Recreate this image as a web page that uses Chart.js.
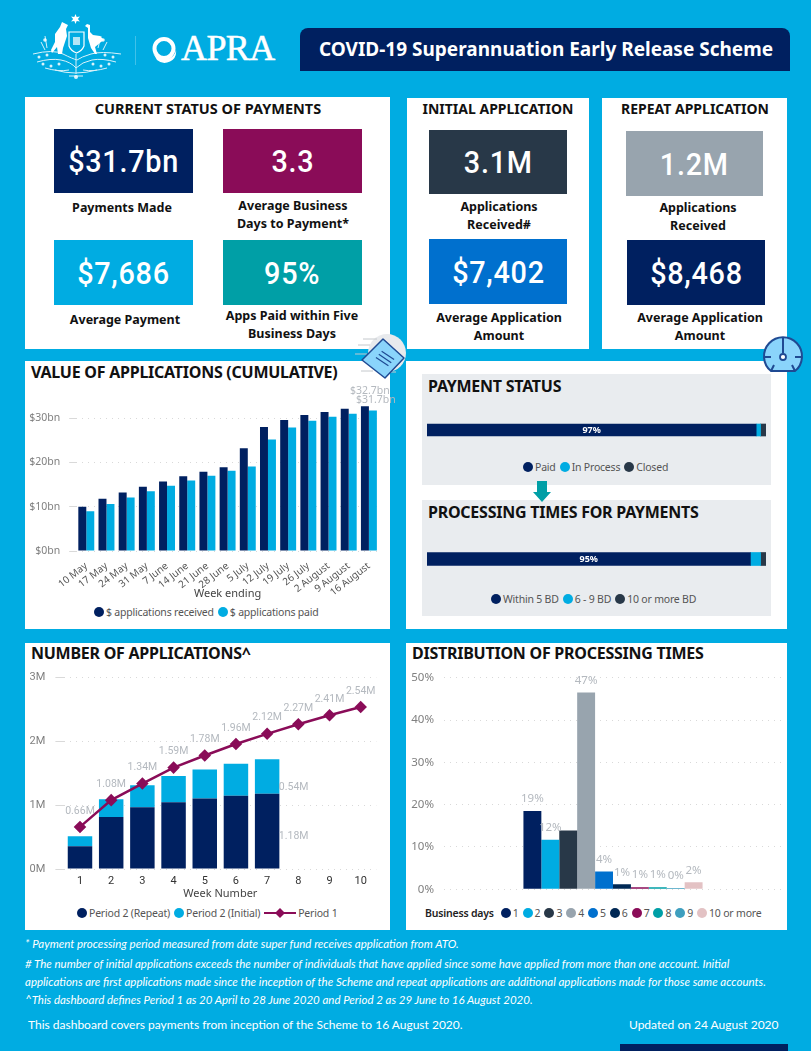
<!DOCTYPE html>
<html>
<head>
<meta charset="utf-8">
<title>COVID-19 Superannuation Early Release Scheme</title>
<script src="https://cdn.jsdelivr.net/npm/chart.js@4/dist/chart.umd.js"></script>
<style>
    * { box-sizing: border-box; }
    html, body { margin: 0; padding: 0; }
    body { position: relative; width: 811px; height: 1051px; overflow: hidden; background: #00ace2; font-family: "Noto Sans", sans-serif; color: #111; }
    .abs { position: absolute; }
    .panel { position: absolute; background: #fff; }
    .grey { position: absolute; background: #e9ecef; }
    .heading { position: absolute; font-weight: 700; font-size: 16px; letter-spacing: -.25px; line-height: 20px; white-space: nowrap; color: #111; }
    .heading.c { transform: translateX(-50%); font-size: 14.5px; letter-spacing: 0; }
    .heading.s { font-size: 14px; }
    .tile { position: absolute; display: flex; align-items: center; justify-content: center; color: #fff; font-family: Roboto, sans-serif; font-weight: 500; font-size: 32px; letter-spacing: .8px; }
    .tile span { display: inline-block; transform: scaleX(.9); }
    .cap { position: absolute; transform: translateX(-50%); text-align: center; white-space: nowrap; font-weight: 700; font-size: 12.5px; line-height: 18px; color: #111; }
    .legend { position: absolute; display: flex; align-items: center; white-space: nowrap; height: 16px; font-size: 10.5px; letter-spacing: -.2px; color: #555; }
    .legend i { display: inline-block; width: 10px; height: 10px; border-radius: 50%; margin-right: 2px; }
    .legend span { margin-right: 4px; }
    .legend b { color: #222; font-weight: 600; margin-right: 7px; }
    .note { position: absolute; left: 25px; color: #fff; font-family: Lato, sans-serif; font-style: italic; font-size: 11.5px; line-height: 16px; white-space: nowrap; }
    .foot { position: absolute; color: #fff; font-family: Lato, sans-serif; font-size: 12px; line-height: 16px; white-space: nowrap; }
    canvas { position: absolute; }
</style>
</head>
<body>

<!-- cabecera -->
<svg class="abs" style="left:25px;top:10px" width="110" height="75" viewBox="0 0 110 75" fill="#fff" stroke="none">
    <path d="M50.5 4l1.2 3 3.2-.6-2 2.6 2 2.6-3.2-.6-1.2 3-1.2-3-3.2.6 2-2.6-2-2.6 3.2.6z"/>
    <path d="M37 12l6 3-2 4 1 7-2 6-2 6-1 6h-4l-1-7-5 6-1-3 4-8v-8l5-7z"/>
    <path d="M62 14l-2 2 3 2v10l3 10 4 6h2l-2-7 6-5 3-2-4-4-7-1-3-3v-7z"/>
    <path d="M44 22h15v14q-2 5-7.500 7-5.500-2-7.500-7z" fill="none" stroke="#fff" stroke-width="1.2"/>
    <path d="M48 27h7v8h-7z" opacity=".7"/>
    <g fill="none" stroke="#fff" stroke-width="1" opacity=".85">
        <path d="M8 44q20-5 30 0t14 6q4-3 14-6t30 0"/>
        <path d="M12 52q14-4 24-2t15 8q6-6 16-8t24 2"/>
        <path d="M20 58q14 4 24 2M82 58q-14 4-24 2"/>
        <path d="M16 32l4 8M20 26l2 12M76 26l-3 12M82 32l-4 8"/>
        <path d="M30 60q20 6 42 0"/>
        <path d="M51 44v20M44 66h14"/>
    </g>
    <g opacity=".85">
        <circle cx="14" cy="47" r="1.500"/><circle cx="22" cy="45" r="1.500"/><circle cx="18" cy="54" r="1.500"/>
        <circle cx="26" cy="56" r="1.500"/><circle cx="34" cy="54" r="1.500"/><circle cx="88" cy="47" r="1.500"/>
        <circle cx="80" cy="45" r="1.500"/><circle cx="84" cy="54" r="1.500"/><circle cx="76" cy="56" r="1.500"/>
        <circle cx="68" cy="54" r="1.500"/><circle cx="20" cy="30" r="1.800"/><circle cx="78" cy="30" r="1.800"/>
        <circle cx="51" cy="67" r="2"/>
    </g>
</svg>
<div class="abs" style="left:135px;top:36px;width:1px;height:29px;background:rgba(255,255,255,.25)"></div>
<svg class="abs" style="left:150px;top:34px" width="30" height="30" viewBox="0 0 30 30">
    <circle cx="14" cy="14.500" r="9.500" fill="none" stroke="#fff" stroke-width="4"/>
    <path d="M3 19q6 8 14 6t9-9q1 8-6 11.500t-13-1.500z" fill="#fff"/>
</svg>
<div class="abs" style="left:181px;top:28px;font-family:'Liberation Serif',serif;font-size:36px;line-height:40px;letter-spacing:-.6px;color:#fff;font-weight:400;-webkit-text-stroke:.5px #fff">APRA</div>
<div class="abs" style="left:300px;top:28px;width:490px;height:43px;background:#002060;border-radius:8px 8px 0 0;color:#fff;font-weight:700;font-size:19px;line-height:43px;text-align:center;padding-left:2px">COVID-19 Superannuation Early Release Scheme</div>

<!-- paneles -->
<div class="panel" style="left:25px;top:97px;width:365px;height:252px"></div>
<div class="panel" style="left:407px;top:98px;width:182px;height:251px"></div>
<div class="panel" style="left:602px;top:98px;width:185px;height:251px"></div>
<div class="panel" style="left:25px;top:361px;width:365px;height:268px"></div>
<div class="panel" style="left:406px;top:361px;width:381px;height:268px"></div>
<div class="panel" style="left:25px;top:643px;width:365px;height:287px"></div>
<div class="panel" style="left:406px;top:643px;width:381px;height:287px"></div>
<div class="grey" style="left:422px;top:374px;width:349px;height:111px"></div>
<div class="grey" style="left:422px;top:500px;width:349px;height:116px"></div>

<!-- tarjetas -->
<div class="heading c" style="left:208px;top:98px">CURRENT STATUS OF PAYMENTS</div>
<div class="heading c s" style="left:498px;top:99px">INITIAL APPLICATION</div>
<div class="heading c s" style="left:695px;top:99px">REPEAT APPLICATION</div>

<div class="tile" style="left:54px;top:129px;width:139px;height:64px;background:#002060"><span>$31.7bn</span></div>
<div class="tile" style="left:223px;top:129px;width:139px;height:64px;background:#8a0c58"><span>3.3</span></div>
<div class="tile" style="left:54px;top:240px;width:139px;height:65px;background:#00ace2"><span>$7,686</span></div>
<div class="tile" style="left:223px;top:240px;width:139px;height:65px;background:#009fa6"><span>95%</span></div>
<div class="tile" style="left:429px;top:130px;width:138px;height:64px;background:#283848"><span>3.1M</span></div>
<div class="tile" style="left:429px;top:239px;width:138px;height:65px;background:#0070ce"><span>$7,402</span></div>
<div class="tile" style="left:626px;top:131px;width:137px;height:65px;background:#98a4ae"><span>1.2M</span></div>
<div class="tile" style="left:627px;top:240px;width:138px;height:65px;background:#002060"><span>$8,468</span></div>

<div class="cap" style="left:122px;top:199px">Payments Made</div>
<div class="cap" style="left:293px;top:197px">Average Business<br>Days to Payment*</div>
<div class="cap" style="left:125px;top:311px">Average Payment</div>
<div class="cap" style="left:292px;top:307px">Apps Paid within Five<br>Business Days</div>
<div class="cap" style="left:499px;top:198px">Applications<br>Received#</div>
<div class="cap" style="left:499px;top:309px">Average Application<br>Amount</div>
<div class="cap" style="left:698px;top:199px">Applications<br>Received</div>
<div class="cap" style="left:700px;top:309px">Average Application<br>Amount</div>

<!-- titulos de graficas -->
<div class="heading" style="left:31px;top:362px">VALUE OF APPLICATIONS (CUMULATIVE)</div>
<div class="heading" style="left:428px;top:376px">PAYMENT STATUS</div>
<div class="heading" style="left:428px;top:502px">PROCESSING TIMES FOR PAYMENTS</div>
<div class="heading" style="left:31px;top:643px">NUMBER OF APPLICATIONS^</div>
<div class="heading" style="left:412px;top:643px">DISTRIBUTION OF PROCESSING TIMES</div>

<!-- iconos -->
<svg class="abs" style="left:355px;top:330px" width="55" height="55" viewBox="0 0 55 55">
    <circle cx="32" cy="23" r="19" fill="#e8eaed"/>
    <g stroke="#c4c8cc" stroke-width="1"><path d="M8 9h14M3 15h12M0 24h12M6 41h12M32 42h9"/></g>
    <path d="M7 30 28 9 49 28 30 48 z" fill="#8ad4fb" stroke="#1f4a93" stroke-width="1.500" stroke-linejoin="round"/>
    <path d="M21 27l12 9M24 24l12 9M27 21l12 9" stroke="#1f4a93" stroke-width="1.200" transform="rotate(-3 30 28)"/>
</svg>
<svg class="abs" style="left:760px;top:334px" width="46" height="42" viewBox="0 0 46 42">
    <path d="M11 37 A19 19 0 1 1 35 37 z" fill="#8ad4fb" stroke="#1f4a93" stroke-width="2"/>
    <path d="M23 4v7M4 23h7M42 23h-7M11 37l3-6M35 37l-3-6M23 19v-8" stroke="#1f4a93" stroke-width="2" fill="none"/>
    <circle cx="23" cy="23" r="3" fill="#fff" stroke="#1f4a93" stroke-width="1.800"/>
</svg>
<svg class="abs" style="left:533px;top:481px" width="18" height="21" viewBox="0 0 18 21">
    <path d="M4 0h10v11h4l-9 10-9-10h4z" fill="#009fa6"/>
</svg>

<!-- graficas -->
<canvas id="chartValue" width="370" height="215" style="left:25px;top:385px"></canvas>
<canvas id="chartStatus" width="339" height="20" style="left:427px;top:420px"></canvas>
<canvas id="chartTimes" width="339" height="20" style="left:427px;top:549px"></canvas>
<canvas id="chartNumber" width="365" height="235" style="left:25px;top:665px"></canvas>
<canvas id="chartDist" width="381" height="230" style="left:406px;top:665px"></canvas>

<div id="legValue" class="legend" style="left:94px;top:604px"></div>
<div id="legStatus" class="legend" style="left:523px;top:459px"></div>
<div id="legTimes" class="legend" style="left:491px;top:591px"></div>
<div id="legNumber" class="legend" style="left:77px;top:905px"></div>
<div id="legDist" class="legend" style="left:425px;top:905px"></div>

<!-- notas -->
<div class="note" style="top:936px">* Payment processing period measured from date super fund receives application from ATO.</div>
<div class="note" style="top:956px"># The number of initial applications exceeds the number of individuals that have applied since some have applied from more than one account. Initial</div>
<div class="note" style="top:974px">applications are first applications made since the inception of the Scheme and repeat applications are additional applications made for those same accounts.</div>
<div class="note" style="top:992px">^This dashboard defines Period 1 as 20 April to 28 June 2020 and Period 2 as 29 June to 16 August 2020.</div>
<div class="foot" style="left:28px;top:1017px">This dashboard covers payments from inception of the Scheme to 16 August 2020.</div>
<div class="foot" style="left:629px;top:1017px">Updated on 24 August 2020</div>
<div class="abs" style="left:620px;top:1044px;width:168px;height:7px;background:#002060"></div>

<script>
// Colores
const NAVY = "#002060";
const CYAN = "#00ace2";
const DARK = "#283848";
const PURPLE = "#8a0c58";
const GREY_LABEL = "#b4b9bf";
const GRID = "#d9d9d9";

// Valor acumulado ($bn)
const weeks = ["10 May", "17 May", "24 May", "31 May", "7 June", "14 June", "21 June", "28 June", "5 July", "12 July", "19 July", "26 July", "2 August", "9 August", "16 August"];
const received = [10.0, 11.8, 13.2, 14.5, 15.7, 16.9, 17.9, 18.9, 23.2, 28.0, 29.6, 30.7, 31.4, 32.1, 32.7];
const paid = [9.0, 10.6, 12.1, 13.5, 14.75, 15.9, 17.0, 18.1, 19.05, 25.2, 27.9, 29.4, 30.3, 31.0, 31.7];
const receivedLabels = ["", "", "", "", "", "", "", "", "", "", "", "", "", "", "$32.7bn"];
const paidLabels = ["", "", "", "", "", "", "", "", "", "", "", "", "", "", "$31.7bn"];

// Barras de estado (%)
const statusNames = ["Paid", "In Process", "Closed"];
const statusValues = [97.1, 1.3, 1.6];
const timesNames = ["Within 5 BD", "6 - 9 BD", "10 or more BD"];
const timesValues = [95.4, 3.0, 1.6];

// Numero de solicitudes (millones)
const weekNumbers = ["1", "2", "3", "4", "5", "6", "7", "8", "9", "10"];
const period2Repeat = [0.356, 0.817, 0.969, 1.047, 1.105, 1.147, 1.18];
const period2Initial = [0.157, 0.277, 0.345, 0.413, 0.455, 0.503, 0.54];
const period1 = [0.66, 1.08, 1.34, 1.59, 1.78, 1.96, 2.12, 2.27, 2.41, 2.54];
const period1Labels = ["0.66M", "1.08M", "1.34M", "1.59M", "1.78M", "1.96M", "2.12M", "2.27M", "2.41M", "2.54M"];

// Distribucion de tiempos (%)
const businessDays = ["1", "2", "3", "4", "5", "6", "7", "8", "9", "10 or more"];
const distValues = [18.5, 11.7, 13.9, 46.5, 4.2, 1.2, 0.5, 0.5, 0.3, 1.65];
const distLabels = ["19%", "12%", "", "47%", "4%", "1%", "1%", "1%", "0%", "2%"];
const distColors = [NAVY, CYAN, DARK, "#98a4ae", "#0070ce", "#002855", PURPLE, "#009fa6", "#3e9fbf", "#e3c2c4"];

// Plugin para escribir las etiquetas de valor sobre las barras y puntos
const valueLabels = {
    id: "valueLabels",
    afterDatasetsDraw(chart) {
        const ctx = chart.ctx;
        chart.data.datasets.forEach((ds, d) => {
            if (!ds.labelTexts) return;
            const meta = chart.getDatasetMeta(d);
            ctx.save();
            ctx.font = ds.labelFont;
            ctx.fillStyle = ds.labelColor || GREY_LABEL;
            ctx.textAlign = "center";
            ctx.textBaseline = "middle";
            meta.data.forEach((el, i) => {
                if (!ds.labelTexts[i]) return;
                const p = ds.labelCenter ? el.getCenterPoint() : { x: el.x, y: el.y };
                ctx.fillText(ds.labelTexts[i], p.x + (ds.labelDx || 0), p.y + (ds.labelDy || 0));
            });
            ctx.restore();
        });
    },
};
Chart.register(valueLabels);
Chart.defaults.animation = false;
Chart.defaults.responsive = false;
Chart.defaults.plugins.legend.display = false;
Chart.defaults.plugins.tooltip.enabled = false;

// Leyendas
function drawLegend(id, entries, title) {
    const box = document.getElementById(id);
    let html = title ? "<b>" + title + "</b>" : "";
    entries.forEach((e) => {
        if (e.line) {
            html +=
                '<svg width="32" height="12" viewBox="0 0 32 12" style="margin-right:2px"><path d="M0 6h32" stroke="' +
                e.color +
                '" stroke-width="2"/><path d="M16 1l5 5-5 5-5-5z" fill="' +
                e.color +
                '"/></svg>';
        } else {
            html += '<i style="background:' + e.color + '"></i>';
        }
        html += "<span>" + e.name + "</span>";
    });
    box.innerHTML = html;
}

const dottedGrid = { color: GRID, lineWidth: 1 };
const dottedBorder = { display: false, dash: [1, 5] };

// El eje y tiene un ancho fijo y no reserva sitio para media etiqueta
function fixY(width) {
    return (s) => {
        s.width = width;
        s.paddingTop = 0;
        s.paddingBottom = 0;
    };
}

// VALUE OF APPLICATIONS
new Chart(document.getElementById("chartValue"), {
    type: "bar",
    data: {
        labels: weeks,
        datasets: [
            { label: "$ applications received", data: received, backgroundColor: NAVY, categoryPercentage: 0.79, barPercentage: 1, labelTexts: receivedLabels, labelFont: "10.5px 'Noto Sans'", labelDx: 5, labelDy: -15.5 },
            { label: "$ applications paid", data: paid, backgroundColor: CYAN, categoryPercentage: 0.79, barPercentage: 1, labelTexts: paidLabels, labelFont: "10.5px 'Noto Sans'", labelDx: 3, labelDy: -11 },
        ],
    },
    options: {
        layout: { padding: { top: 15.4, right: 16, left: 0, bottom: 0 } },
        scales: {
            x: {
                grid: { display: false },
                border: { display: false },
                afterFit: (s) => { s.height = 49; },
                ticks: { autoSkip: false, minRotation: 38, maxRotation: 38, padding: 1, color: "#555", font: { size: 10, family: "'Noto Sans'" } },
                title: { display: true, text: "Week ending", color: "#444", padding: 0, font: { size: 11, family: "'Noto Sans'" } },
            },
            y: {
                min: 0,
                max: 34,
                afterFit: fixY(51.2),
                grid: { ...dottedGrid, tickLength: 7 },
                border: dottedBorder,
                ticks: { stepSize: 10, includeBounds: false, padding: 9, color: "#808080", font: { size: 10.5, family: "'Noto Sans'" }, callback: (v) => "$" + v + "bn" },
            },
        },
    },
});
drawLegend("legValue", [{ name: "$ applications received", color: NAVY }, { name: "$ applications paid", color: CYAN }]);

// Barras horizontales apiladas
function stackedBar(id, values, names, text, thickness) {
    const colors = [NAVY, CYAN, DARK];
    new Chart(document.getElementById(id), {
        type: "bar",
        data: {
            labels: [""],
            datasets: values.map((v, i) => ({
                label: names[i],
                data: [v],
                backgroundColor: colors[i],
                barThickness: thickness,
                labelTexts: i === 0 ? [text] : null,
                labelCenter: true,
                labelColor: "#fff",
                labelFont: "700 9px 'Noto Sans'",
            })),
        },
        options: {
            indexAxis: "y",
            scales: {
                x: { display: false, stacked: true, min: 0, max: 100 },
                y: { display: false, stacked: true },
            },
        },
    });
    drawLegend(id === "chartStatus" ? "legStatus" : "legTimes", names.map((n, i) => ({ name: n, color: colors[i] })));
}
stackedBar("chartStatus", statusValues, statusNames, "97%", 12);
stackedBar("chartTimes", timesValues, timesNames, "95%", 13);

// NUMBER OF APPLICATIONS
new Chart(document.getElementById("chartNumber"), {
    type: "bar",
    data: {
        labels: weekNumbers,
        datasets: [
            { type: "line", label: "Period 1", order: 0, data: period1, borderColor: PURPLE, backgroundColor: PURPLE, borderWidth: 2.5, pointStyle: "rectRot", pointRadius: 4.5, tension: 0, labelTexts: period1Labels, labelFont: "10.5px Roboto", labelDy: -16 },
            { label: "Period 2 (Repeat)", order: 1, data: period2Repeat, backgroundColor: NAVY, stack: "p2", categoryPercentage: 0.785, barPercentage: 1, labelTexts: ["", "", "", "", "", "", "1.18M"], labelFont: "10.5px Roboto", labelDx: 26.5, labelDy: 43 },
            { label: "Period 2 (Initial)", order: 1, data: period2Initial, backgroundColor: CYAN, stack: "p2", categoryPercentage: 0.785, barPercentage: 1, labelTexts: ["", "", "", "", "", "", "0.54M"], labelFont: "10.5px Roboto", labelDx: 26.5, labelDy: 28 },
        ],
    },
    options: {
        layout: { padding: { top: 12.7, right: 13.7, left: 0, bottom: 0 } },
        scales: {
            x: {
                stacked: true,
                grid: { display: false, drawTicks: false },
                border: { display: false },
                afterFit: (s) => { s.height = 31; },
                ticks: { padding: 6, color: "#333", font: { size: 11, family: "Roboto" } },
                title: { display: true, text: "Week Number", color: "#444", padding: 0, font: { size: 11, family: "'Noto Sans'" } },
            },
            y: {
                stacked: true,
                min: 0,
                max: 3,
                afterFit: fixY(39.4),
                grid: { ...dottedGrid, tickLength: 9 },
                border: dottedBorder,
                ticks: { stepSize: 1, padding: 10, color: "#808080", font: { size: 11, family: "Roboto" }, callback: (v) => v + "M" },
            },
        },
    },
});
drawLegend("legNumber", [
    { name: "Period 2 (Repeat)", color: NAVY },
    { name: "Period 2 (Initial)", color: CYAN },
    { name: "Period 1", color: PURPLE, line: true },
]);

// DISTRIBUTION OF PROCESSING TIMES
new Chart(document.getElementById("chartDist"), {
    type: "bar",
    data: {
        labels: ["Business days"],
        datasets: businessDays.map((day, i) => ({
            label: day,
            data: [distValues[i]],
            backgroundColor: distColors[i],
            categoryPercentage: 0.53,
            barPercentage: 1,
            labelTexts: [distLabels[i]],
            labelFont: "11.5px 'Noto Sans'",
            labelDy: -12,
        })),
    },
    options: {
        layout: { padding: { top: 12.7, right: 5, left: 0, bottom: 5.7 } },
        scales: {
            x: { display: false },
            y: {
                min: 0,
                max: 50,
                afterFit: fixY(38),
                grid: { ...dottedGrid, drawTicks: false },
                border: dottedBorder,
                ticks: { stepSize: 10, padding: 10, color: "#808080", font: { size: 11.5, family: "'Noto Sans'" }, callback: (v) => v + "%" },
            },
        },
    },
});
drawLegend("legDist", businessDays.map((d, i) => ({ name: d, color: distColors[i] })), "Business days");
</script>
</body>
</html>
